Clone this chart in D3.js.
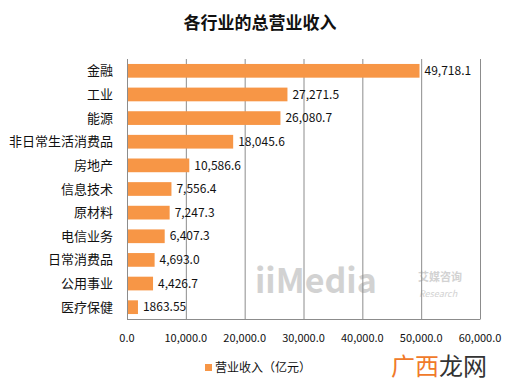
<!DOCTYPE html>
<html><head><meta charset="utf-8">
<script src="https://cdn.jsdelivr.net/npm/d3@7"></script>
<style>
html,body{margin:0;padding:0;background:#fff;}
text{font-family:"Noto Sans CJK SC","Noto Sans",sans-serif;}
</style></head>
<body><svg id="c" width="520" height="383"></svg>
<script>
const categories = ["金融","工业","能源","非日常生活消费品","房地产","信息技术","原材料","电信业务","日常消费品","公用事业","医疗保健"];
const values = [49718.1,27271.5,26080.7,18045.6,10586.6,7556.4,7247.3,6407.3,4693.0,4426.7,1863.55];
const valueLabels = ["49,718.1","27,271.5","26,080.7","18,045.6","10,586.6","7,556.4","7,247.3","6,407.3","4,693.0","4,426.7","1863.55"];
const tickValues = [0,10000,20000,30000,40000,50000,60000];
const tickLabels = ["0.0","10,000.0","20,000.0","30,000.0","40,000.0","50,000.0","60,000.0"];
const title = "各行业的总营业收入";
const seriesName = "营业收入（亿元）";

const svg = d3.select("#c");
const m = {left:127, right:40, top:59, bottom:64};
const W = 520, H = 383;
const x = d3.scaleLinear().domain([0,60000]).range([m.left, W - m.right]);
const y = d3.scaleBand().domain(categories).range([m.top, H - m.bottom]).paddingInner(0.42).paddingOuter(0.21);
const color = "#F79646";

svg.append("text").attr("x",260).attr("y",29).attr("text-anchor","middle")
  .attr("font-size",17).attr("font-weight","bold").attr("fill","#111").text(title);

// watermark
const wm = svg.append("g").attr("opacity",0.8);
wm.append("text").attr("x",255).attr("y",293).attr("font-size",34).attr("font-weight","bold")
  .attr("fill","#c8c8c8").attr("font-family","DejaVu Sans").text("iiMedia");
wm.append("text").attr("x",418).attr("y",281).attr("font-size",11).attr("font-weight","bold")
  .attr("fill","#c8c8c8").text("艾媒咨询");
wm.append("text").attr("x",419).attr("y",297).attr("font-size",9).attr("font-style","italic")
  .attr("fill","#c8c8c8").attr("font-family","DejaVu Sans").text("Research");

// gridlines
svg.append("g").selectAll("line").data(tickValues.slice(1)).join("line")
  .attr("x1",d=>x(d)+0.5).attr("x2",d=>x(d)+0.5).attr("y1",m.top).attr("y2",H-m.bottom)
  .attr("stroke","#8c8c8c").attr("stroke-width",1);

// bars
svg.append("g").selectAll("rect").data(values).join("rect")
  .attr("x",x(0)).attr("y",(d,i)=>y(categories[i])).attr("width",d=>x(d)-x(0))
  .attr("height",y.bandwidth()).attr("fill",color);

// axes lines
svg.append("line").attr("x1",x(0)+0.5).attr("x2",x(0)+0.5).attr("y1",m.top).attr("y2",H-m.bottom+0.5)
  .attr("stroke","#8c8c8c");
svg.append("line").attr("x1",x(0)).attr("x2",x(60000)+0.5).attr("y1",H-m.bottom+0.5).attr("y2",H-m.bottom+0.5)
  .attr("stroke","#8c8c8c");

// value labels
svg.append("g").selectAll("text").data(values).join("text")
  .attr("x",d=>x(d)+5).attr("y",(d,i)=>y(categories[i])+y.bandwidth()/2)
  .attr("dy","0.35em").attr("font-size",12).attr("fill","#111").text((d,i)=>valueLabels[i]);

// category labels
svg.append("g").selectAll("text").data(categories).join("text")
  .attr("x",113).attr("y",d=>y(d)+y.bandwidth()/2).attr("dy","0.35em")
  .attr("text-anchor","end").attr("font-size",13).attr("fill","#111").text(d=>d);

// x tick labels
svg.append("g").selectAll("text").data(tickValues).join("text")
  .attr("x",d=>x(d)).attr("y",342).attr("text-anchor","middle")
  .attr("font-size",11).attr("fill","#111").text((d,i)=>tickLabels[i]);

// legend
svg.append("rect").attr("x",205).attr("y",364).attr("width",7).attr("height",7).attr("fill",color);
svg.append("text").attr("x",215).attr("y",368).attr("dy","0.35em").attr("font-size",12).attr("fill","#111").text(seriesName);

// site watermark
const sw = svg.append("text").attr("x",391).attr("y",375).attr("font-size",24);
sw.append("tspan").attr("fill","#f07a2a").text("广西");
sw.append("tspan").attr("fill","#333").text("龙网");
</script></body></html>
